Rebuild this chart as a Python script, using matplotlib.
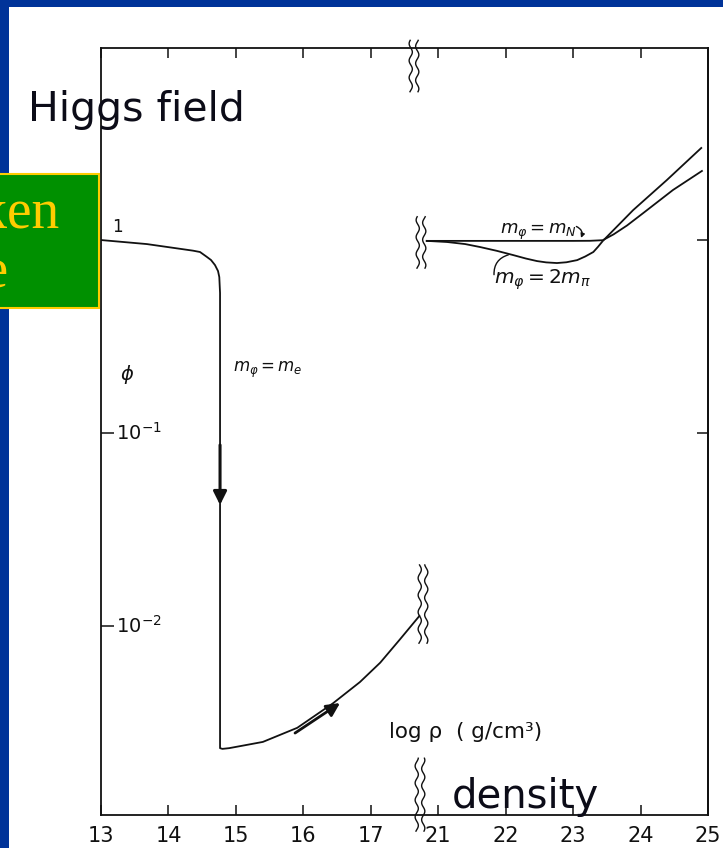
import numpy as np
import matplotlib
matplotlib.use("Agg")
import matplotlib.pyplot as plt
from matplotlib.patches import Rectangle
from matplotlib.ticker import NullLocator
from matplotlib.transforms import IdentityTransform

# ---- data: log density (g/cm^3) vs. field amplitude phi ----
low_rho = [13.0, 13.68, 14.364, 14.468, 14.567, 14.631, 14.690, 14.735, 14.754,
           14.765, 14.765, 14.80, 14.90, 15.10, 15.40, 15.91, 16.44, 16.84,
           17.14, 17.43, 17.72]
low_phi = [1.0, 0.953, 0.881, 0.867, 0.819, 0.788, 0.742, 0.691, 0.643,
           0.532, 0.00233, 0.00231, 0.00233, 0.00240, 0.00251, 0.00297,
           0.00398, 0.00513, 0.00646, 0.00851, 0.01127]

pion_rho = [20.83, 21.13, 21.40, 21.62, 21.87, 22.11, 22.30, 22.465, 22.60,
            22.76, 22.90, 23.06, 23.18, 23.30, 23.37, 23.44, 23.89, 24.39, 24.90]
pion_phi = [0.99, 0.977, 0.953, 0.920, 0.879, 0.836, 0.802, 0.778, 0.766,
            0.760, 0.767, 0.787, 0.822, 0.867, 0.923, 0.989, 1.429, 2.046, 2.999]

nucleon_rho = [20.83, 22.0, 23.0, 23.25, 23.44, 23.60, 23.80, 24.04, 24.48, 24.91]
nucleon_phi = [0.99, 0.99, 0.99, 0.991, 0.998, 1.07, 1.19, 1.380, 1.816, 2.280]

xtick_vals = [13, 14, 15, 16, 17, 21, 22, 23, 24, 25]
xtick_labels = ["13", "14", "15", "16", "17", "21", "22", "23", "24", "25"]

# broken density axis: 17.75 .. 20.75 is cut out
GAP_LO, GAP_HI = 17.75, 20.75


def fwd(x):
    x = np.asarray(x, dtype=float)
    return np.where(x <= GAP_LO, x,
                    np.where(x >= GAP_HI, x - (GAP_HI - GAP_LO), GAP_LO))


def inv(u):
    u = np.asarray(u, dtype=float)
    return np.where(u <= GAP_LO, u, u + (GAP_HI - GAP_LO))


W, H, DPI = 723, 848, 100
BLUE = "#003399"
INK = "#111111"

fig = plt.figure(figsize=(W / DPI, H / DPI), dpi=DPI, facecolor=BLUE)


def px(x, y):
    return (x / W, 1 - y / H)


# white slide area
fig.add_artist(Rectangle(px(9, 848), 1, (848 - 7) / H, transform=fig.transFigure,
                         facecolor="white", edgecolor="none", zorder=0))

ax = fig.add_axes([101 / W, 1 - 815 / H, (708 - 101) / W, (815 - 48) / H])
ax.set_facecolor("none")
ax.set_xscale("function", functions=(fwd, inv))
ax.set_yscale("log")
ax.set_xlim(13, 25)
ax.set_ylim(10 ** -2.979, 10 ** 0.995)

lw = 1.3
ax.plot(low_rho, low_phi, color=INK, lw=lw, solid_joinstyle="round")
ax.plot(pion_rho, pion_phi, color=INK, lw=lw, solid_joinstyle="round")
ax.plot(nucleon_rho, nucleon_phi, color=INK, lw=lw, solid_joinstyle="round")

for s in ax.spines.values():
    s.set_linewidth(1.3)
    s.set_color(INK)

ax.set_xticks(xtick_vals)
ax.set_xticklabels(xtick_labels, family=["Liberation Sans Narrow", "DejaVu Sans"],
                   fontsize=15, color=INK)
ax.xaxis.set_minor_locator(NullLocator())
ax.tick_params(axis="x", which="major", direction="in", length=7, width=1.1,
               top=True, bottom=True, pad=8, colors=INK)

ax.set_yticks([1e-2, 1e-1])
ax.yaxis.set_minor_locator(NullLocator())
ax.tick_params(axis="y", which="major", direction="in", length=9, width=1.1,
               left=True, right=False, labelleft=False, colors=INK)

sec = ax.secondary_yaxis("right")
sec.set_yticks([1e-1, 1.0])
sec.yaxis.set_minor_locator(NullLocator())
sec.tick_params(direction="in", length=8, width=1.1, labelright=False, colors=INK)
sec.spines["right"].set_linewidth(1.3)

# y labels written inside the frame
ytr = ax.get_yaxis_transform()
ax.text(0.025, 0.1, r"$10^{-1}$", transform=ytr, ha="left", va="center",
        fontsize=14, color=INK)
ax.text(0.025, 0.01, r"$10^{-2}$", transform=ytr, ha="left", va="center",
        fontsize=14, color=INK)
ax.text(13.24, 1.17, "1", ha="center", va="center", fontsize=12, color=INK)
ax.text(13.385, 0.20, r"$\phi$", ha="center", va="center", fontsize=14, color=INK)

ax.text(14.96, 0.212, r"$m_\varphi = m_e$", ha="left", va="center",
        fontsize=12, color=INK)
ax.text(21.92, 1.10, r"$m_\varphi = m_N$", ha="left", va="center",
        fontsize=13, color=INK)
ax.text(21.82, 0.62, r"$m_\varphi = 2m_\pi$", ha="left", va="center",
        fontsize=14.5, color=INK)
ax.text(0.4745, 0.108, "log ρ  ( g/cm³)", transform=ax.transAxes, ha="left",
        va="center", fontsize=15.5, color=INK)

# pointer hooks to the two high-density curves
ax.annotate("", xy=(23.10, 0.995), xytext=(23.01, 1.19),
            arrowprops=dict(arrowstyle="-|>", mutation_scale=6, lw=1,
                            color=INK, connectionstyle="arc3,rad=-0.6"))
ax.annotate("", xy=(22.08, 0.845), xytext=(21.83, 0.64),
            arrowprops=dict(arrowstyle="-", lw=1, color=INK,
                            connectionstyle="arc3,rad=-0.45"))

# direction arrows along the low-density branch
ax.annotate("", xy=(14.765, 0.0424), xytext=(14.765, 0.0867),
            arrowprops=dict(arrowstyle="-|>", mutation_scale=20, lw=2.2,
                            color=INK, shrinkA=0, shrinkB=0))
ax.annotate("", xy=(16.544, 0.00399), xytext=(15.877, 0.00279),
            arrowprops=dict(arrowstyle="-|>", mutation_scale=20, lw=2.0,
                            color=INK, shrinkA=0, shrinkB=0))


# wavy axis-break marks
def break_mark(ax, xdata, dx_px, ylo, yhi, sep_px=6.5, amp_px=1.6, period_px=17):
    fig.canvas.draw()
    xc = ax.transData.transform((xdata, 1.0))[0] + dx_px
    y0 = ax.transAxes.transform((0, ylo))[1]
    y1 = ax.transAxes.transform((0, yhi))[1]
    t = np.linspace(y0, y1, 120)
    for k in (-0.5, 0.5):
        xs = xc + k * sep_px + amp_px * np.sin(2 * np.pi * (t - y0) / period_px + k)
        ax.add_line(plt.Line2D(xs, t, transform=IdentityTransform(), color=INK,
                               lw=1.0, clip_on=False, zorder=5))


BREAK_X = 17.70
break_mark(ax, BREAK_X, -4, 0.943, 1.010)
break_mark(ax, BREAK_X, 3, 0.713, 0.780)
break_mark(ax, BREAK_X, 5, 0.224, 0.326)
break_mark(ax, BREAK_X, 2, -0.021, 0.074)

# slide titles
fig.text(*px(28, 121), "Higgs field", fontsize=29.5, family="DejaVu Sans",
         color="#0c0c18", ha="left", va="baseline")
fig.text(*px(452, 808), "density", fontsize=29, family="DejaVu Sans",
         color="#0c0c18", ha="left", va="baseline")

# green call-out box at the left edge
fig.add_artist(Rectangle(px(-6, 308), 105 / W, 134 / H, transform=fig.transFigure,
                         facecolor="#009000", edgecolor="#ffcc00", lw=1.5, zorder=6))
fig.text(*px(60, 228), "Broken", fontsize=40, family="Liberation Serif",
         color="#ffcc00", ha="right", va="baseline", zorder=7)
fig.text(*px(8, 287), "phase", fontsize=40, family="Liberation Serif",
         color="#ffcc00", ha="right", va="baseline", zorder=7)

fig.savefig("out.png", dpi=DPI, facecolor=BLUE)
